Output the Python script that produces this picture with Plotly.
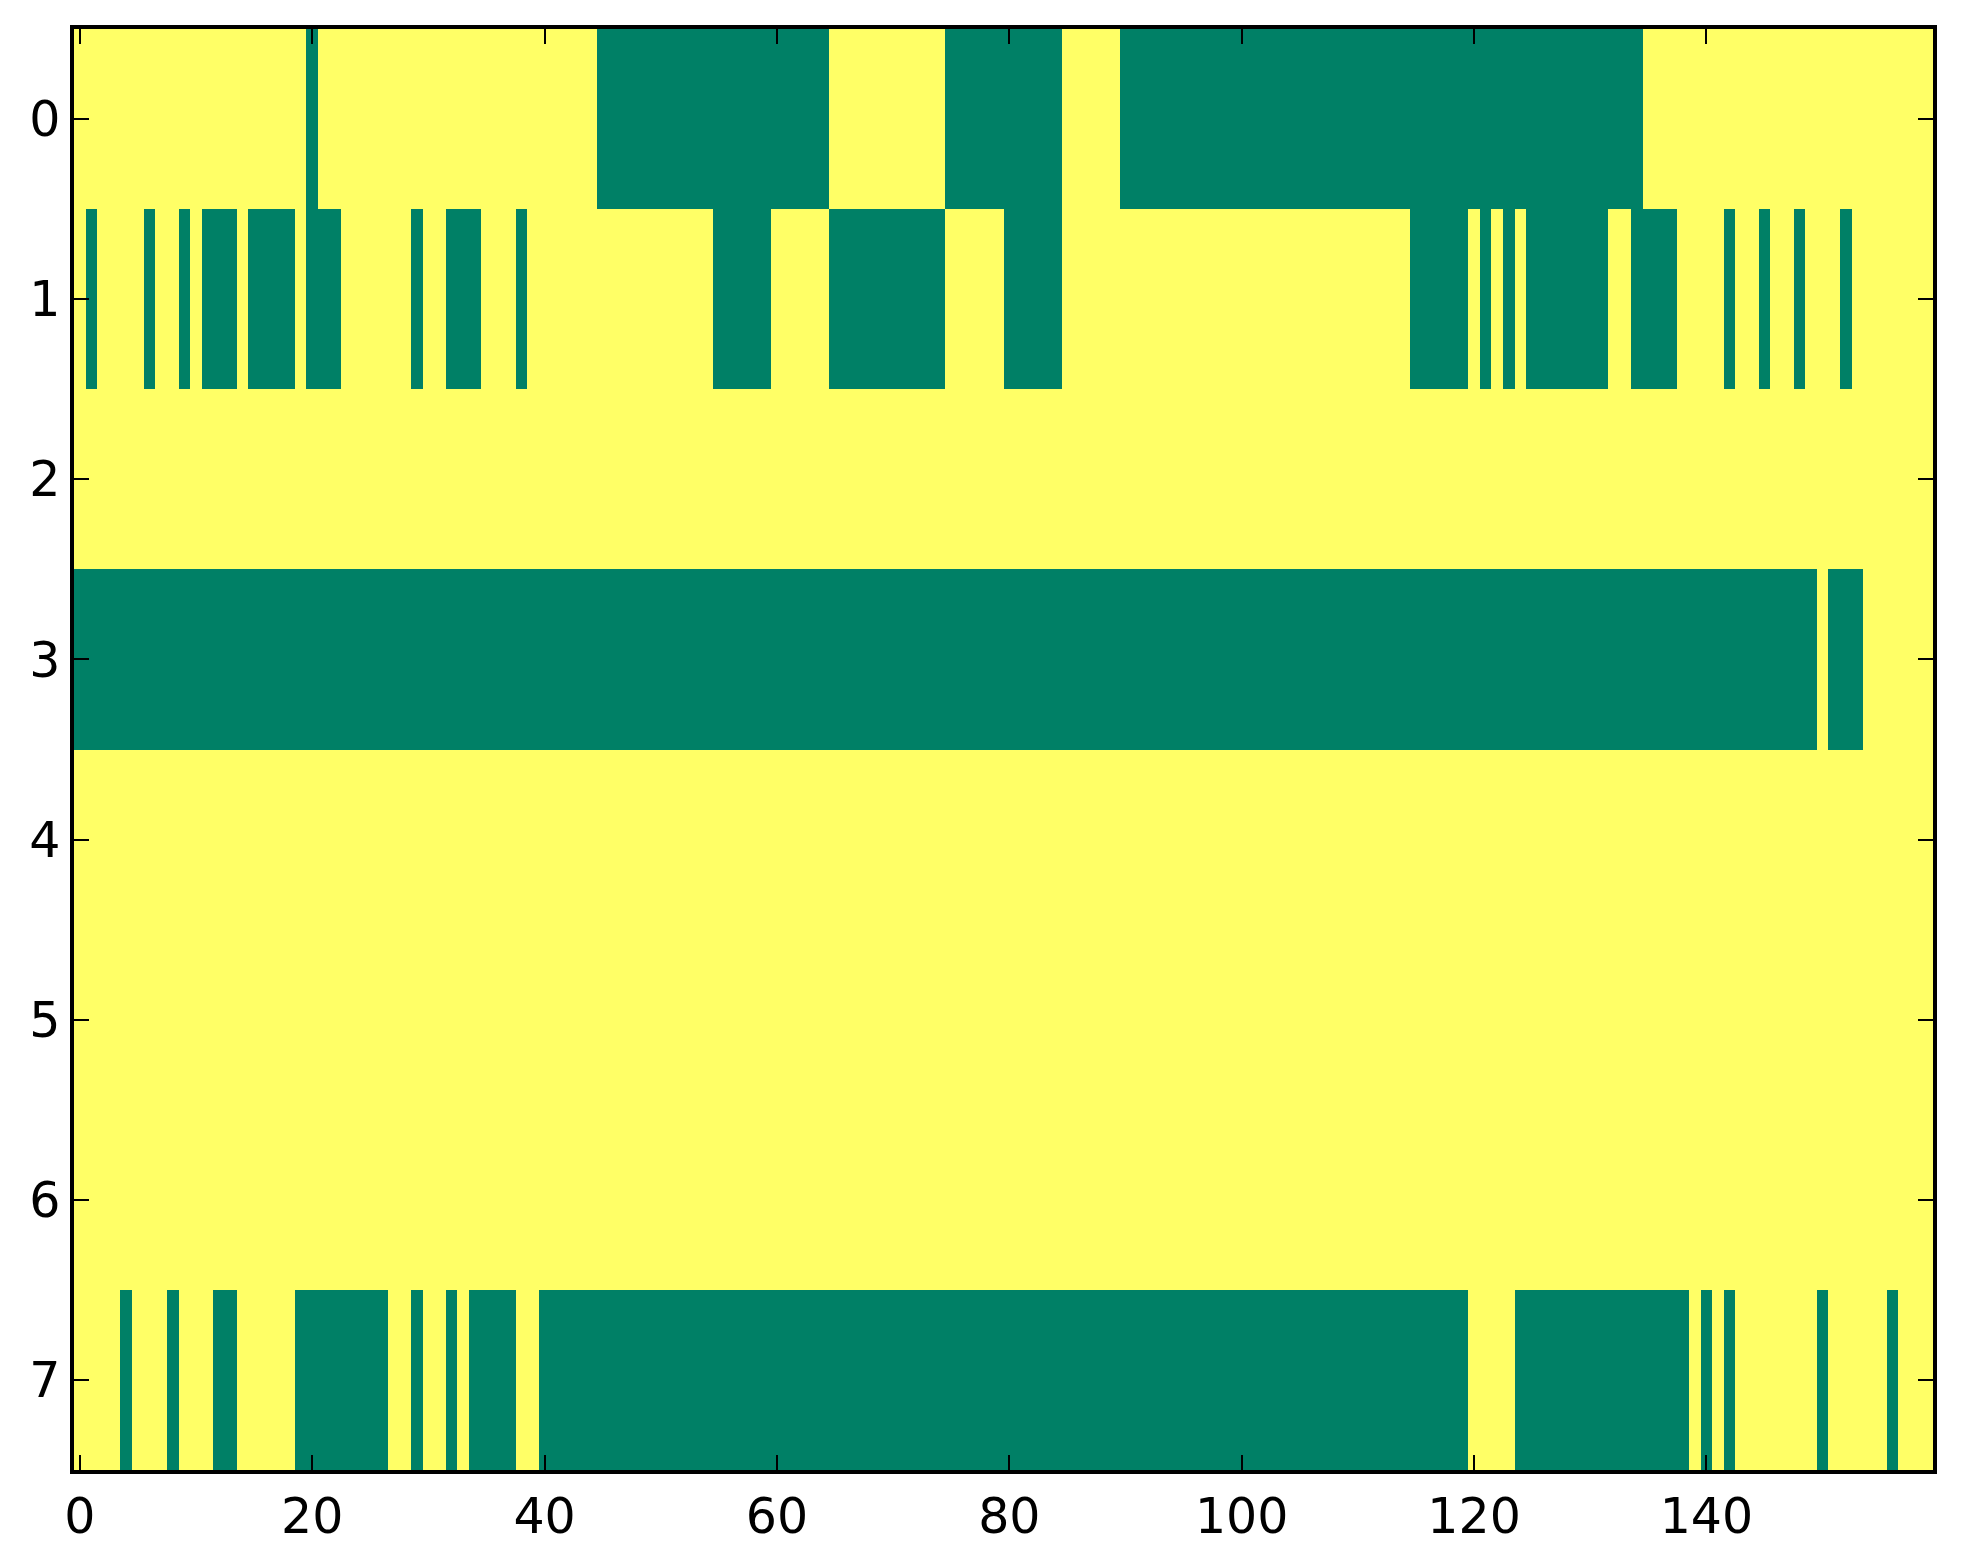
import numpy as np
import plotly.graph_objects as go

n_cols = 160
rows = list(range(8))
x_ticks = [0, 20, 40, 60, 80, 100, 120, 140]

# Green (value 1) runs per row, inclusive column ranges
row0_runs = [(20, 20), (45, 64), (75, 84), (90, 134)]
row1_runs = [(1, 1), (6, 6), (9, 9), (11, 13), (15, 18), (20, 22), (29, 29),
             (32, 34), (38, 38), (55, 59), (65, 74), (80, 84), (115, 119),
             (121, 121), (123, 123), (125, 131), (134, 137), (142, 142),
             (145, 145), (148, 148), (152, 152)]
row2_runs = []
row3_runs = [(0, 149), (151, 153)]
row4_runs = []
row5_runs = []
row6_runs = []
row7_runs = [(4, 4), (8, 8), (12, 13), (19, 26), (29, 29), (32, 32), (34, 37),
             (40, 119), (124, 138), (140, 140), (142, 142), (150, 150), (156, 156)]

all_runs = [row0_runs, row1_runs, row2_runs, row3_runs,
            row4_runs, row5_runs, row6_runs, row7_runs]

z = np.zeros((len(rows), n_cols))
for r, runs in enumerate(all_runs):
    for a, b in runs:
        z[r, a:b + 1] = 1

fig = go.Figure(go.Heatmap(
    z=z, x=list(range(n_cols)), y=rows,
    colorscale=[[0, "#ffff66"], [1, "#008066"]],
    zmin=0, zmax=1, showscale=False, hoverinfo="skip"))

axis_common = dict(
    showline=True, linecolor="black", linewidth=3.5, mirror="ticks",
    ticks="inside", ticklen=15, tickwidth=2, tickcolor="black",
    showgrid=False, zeroline=False,
    tickfont=dict(family="DejaVu Sans", size=49, color="black"),
)

fig.update_xaxes(range=[-0.5, n_cols - 0.5], tickvals=x_ticks,
                 ticktext=[str(v) for v in x_ticks], **axis_common)
fig.update_yaxes(range=[7.5, -0.5], tickvals=rows,
                 ticktext=[str(v) for v in rows], **axis_common)

fig.update_layout(
    width=1963, height=1564,
    margin=dict(l=66, r=38, t=21, b=102),
    plot_bgcolor="white", paper_bgcolor="white",
)

fig.write_html("out.html")
